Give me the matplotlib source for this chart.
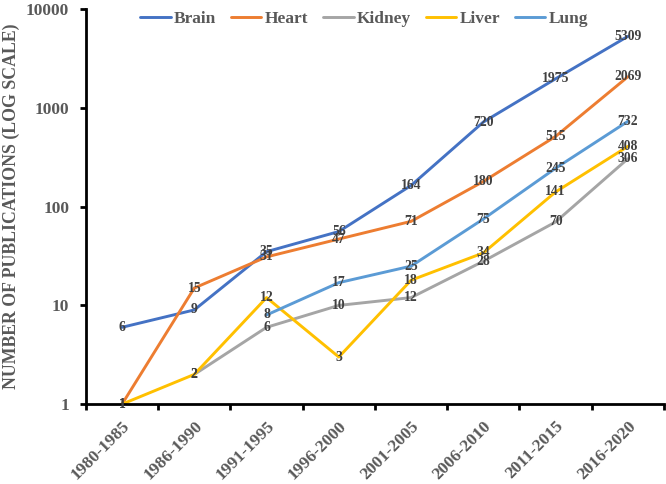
import matplotlib.pyplot as plt
import numpy as np

periods = ['1980-1985', '1986-1990', '1991-1995', '1996-2000',
           '2001-2005', '2006-2010', '2011-2015', '2016-2020']
brain = [6, 9, 35, 56, 164, 720, 1975, 5309]
heart = [1, 15, 31, 47, 71, 180, 515, 2069]
kidney = [None, 2, 6, 10, 12, 28, 70, 306]
liver = [1, 2, 12, 3, 18, 34, 141, 408]
lung = [None, None, 8, 17, 25, 75, 245, 732]

series = [('Brain', brain, '#4472C4'),
          ('Heart', heart, '#ED7D31'),
          ('Kidney', kidney, '#A5A5A5'),
          ('Liver', liver, '#FFC000'),
          ('Lung', lung, '#5B9BD5')]

plt.rcParams['font.family'] = 'Liberation Serif'
plt.rcParams['font.weight'] = 'bold'

fig = plt.figure(figsize=(6.66, 4.84), dpi=100)
ax = fig.add_axes([0.129, 0.165, 0.868, 0.816])

x = np.arange(len(periods))
for name, vals, col in series:
    v = np.array([np.nan if a is None else a for a in vals], dtype=float)
    ax.plot(x, v, color=col, lw=2.1, label=name, solid_capstyle='round')

# data labels drawn over all the lines
for name, vals, col in series:
    for i, a in enumerate(vals):
        if a is None:
            continue
        ax.text(i, a, str(a), ha='center', va='center', fontsize=9.8,
                fontweight='bold', color='#404040', zorder=5)

ax.set_yscale('log')
ax.set_ylim(1, 10000)
ax.set_yticks([1, 10, 100, 1000, 10000])
ax.set_yticklabels(['1', '10', '100', '1000', '10000'])
ax.yaxis.set_minor_locator(plt.NullLocator())
ax.set_xlim(-0.5, len(periods) - 0.5)
ax.set_xticks(x)
ax.set_xticklabels(periods, rotation=45, ha='right', va='top', rotation_mode='anchor')
ax.set_xticks(np.arange(-0.5, len(periods)), minor=True)
ax.tick_params(axis='x', which='major', length=0, pad=10)
ax.tick_params(axis='x', which='minor', length=4.5, width=2, direction='out')
ax.tick_params(axis='y', length=4.5, width=2, direction='out', pad=7.5)
for lab in ax.get_xticklabels() + ax.get_yticklabels():
    lab.set_fontsize(12.5)
    lab.set_fontweight('bold')
    lab.set_color('#595959')

for s in ['top', 'right']:
    ax.spines[s].set_visible(False)
for s in ['left', 'bottom']:
    ax.spines[s].set_linewidth(2)
    ax.spines[s].set_color('black')

ax.set_ylabel('NUMBER OF PUBLICATIONS (LOG SCALE)', fontsize=12.8,
              fontweight='bold', color='#595959', labelpad=4)

fig.legend(loc='upper center', bbox_to_anchor=(0.547, 1.01), ncol=5, frameon=False,
           prop={'size': 12.5, 'weight': 'bold'}, labelcolor='#595959',
           handlelength=1.75, handletextpad=0.2, columnspacing=0.85)

fig.savefig('out.png', dpi=100)
